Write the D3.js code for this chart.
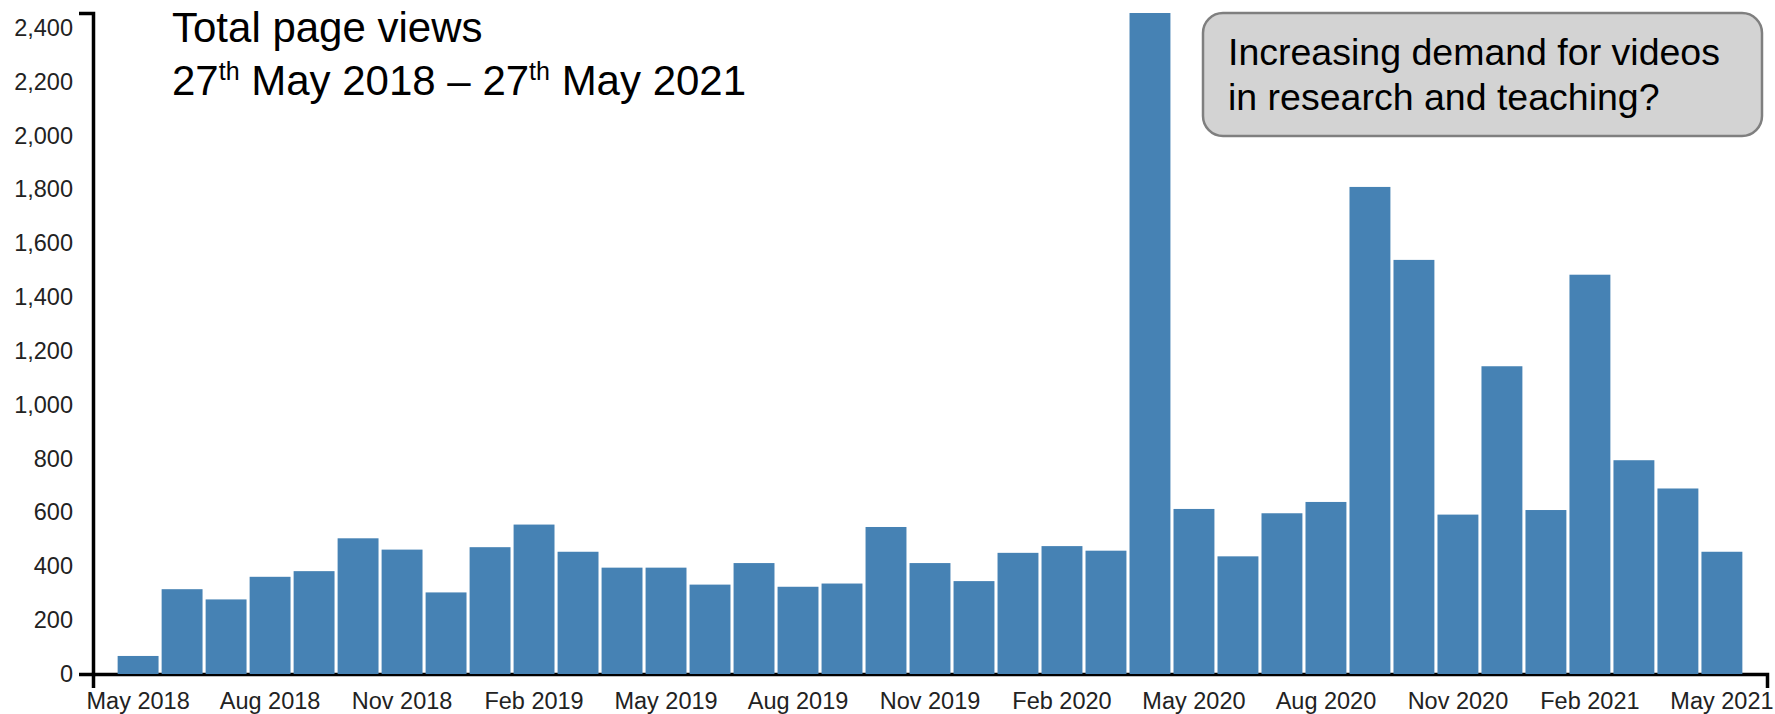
<!DOCTYPE html>
<html>
<head>
<meta charset="utf-8">
<script src="https://cdn.jsdelivr.net/npm/d3@7"></script>
<style>
  body { margin: 0; background: #fff; }
  text { font-family: 'Liberation Sans', Arial, sans-serif; }
</style>
</head>
<body>
<div id="chart"></div>
<script>
const months = [
    'May 2018', 'Jun 2018', 'Jul 2018', 'Aug 2018', 'Sep 2018', 'Oct 2018', 'Nov 2018', 'Dec 2018',
    'Jan 2019', 'Feb 2019', 'Mar 2019', 'Apr 2019', 'May 2019', 'Jun 2019', 'Jul 2019', 'Aug 2019',
    'Sep 2019', 'Oct 2019', 'Nov 2019', 'Dec 2019', 'Jan 2020', 'Feb 2020', 'Mar 2020', 'Apr 2020',
    'May 2020', 'Jun 2020', 'Jul 2020', 'Aug 2020', 'Sep 2020', 'Oct 2020', 'Nov 2020', 'Dec 2020',
    'Jan 2021', 'Feb 2021', 'Mar 2021', 'Apr 2021', 'May 2021'
]
const views = [
    67, 315, 277, 361, 382, 504, 462, 303,
    471, 555, 454, 395, 395, 332, 412, 324,
    336, 546, 412, 345, 450, 475, 458, 2455,
    613, 437, 597, 639, 1809, 1538, 592, 1143,
    609, 1483, 794, 689, 454
]
const xTickLabels = [
    'May 2018', 'Aug 2018', 'Nov 2018', 'Feb 2019', 'May 2019', 'Aug 2019', 'Nov 2019',
    'Feb 2020', 'May 2020', 'Aug 2020', 'Nov 2020', 'Feb 2021', 'May 2021'
]
const titleLines = ['Total page views']
const noteLines = ['Increasing demand for videos', 'in research and teaching?']

const width = 1775
const height = 714
const margin = { top: 13, right: 8, bottom: 40, left: 93 }

const svg = d3.select('#chart').append('svg')
    .attr('width', width)
    .attr('height', height)

const x = d3.scaleBand()
    .domain(months)
    .range([margin.left, width - margin.right])
    .paddingInner(0.07)
    .paddingOuter(0.56)

const y = d3.scaleLinear()
    .domain([0, d3.max(views)])
    .range([height - margin.bottom, margin.top])

// y axis
const yAxis = svg.append('g')
    .attr('transform', `translate(${margin.left}, 0)`)
    .call(d3.axisLeft(y).ticks(12).tickFormat(d3.format(',')).tickSizeInner(0).tickSizeOuter(14).tickPadding(20))
yAxis.select('.domain').attr('stroke', '#000').attr('stroke-width', 3.5)
yAxis.selectAll('text').attr('font-size', '23.5px').attr('font-family', "'Liberation Sans', Arial, sans-serif").attr('fill', '#222')

// x axis
const xAxis = svg.append('g')
    .attr('transform', `translate(0, ${height - margin.bottom})`)
    .call(d3.axisBottom(x).tickValues(xTickLabels).tickSizeInner(0).tickSizeOuter(14).tickPadding(18))
xAxis.select('.domain').attr('stroke', '#000').attr('stroke-width', 3.5)
xAxis.selectAll('text').attr('font-size', '23.5px').attr('font-family', "'Liberation Sans', Arial, sans-serif").attr('fill', '#222')

// bars
svg.selectAll('rect.bar')
    .data(months)
    .enter()
    .append('rect')
    .attr('class', 'bar')
    .attr('x', d => x(d))
    .attr('y', (d, i) => y(views[i]))
    .attr('width', x.bandwidth())
    .attr('height', (d, i) => y(0) - y(views[i]))
    .attr('fill', 'steelblue')

// title
const title = svg.append('text')
    .attr('x', 172)
    .attr('y', 42)
    .attr('font-size', '42px')
    .attr('fill', '#000')
    .text(titleLines[0])

const sub = svg.append('text')
    .attr('x', 172)
    .attr('y', 95)
    .attr('font-size', '42px')
    .attr('fill', '#000')
sub.append('tspan').text('27')
sub.append('tspan').attr('dy', -15).attr('font-size', '25px').text('th')
sub.append('tspan').attr('dy', 15).text(' May 2018 \u2013 27')
sub.append('tspan').attr('dy', -15).attr('font-size', '25px').text('th')
sub.append('tspan').attr('dy', 15).text(' May 2021')

// callout
const note = svg.append('g')
note.append('rect')
    .attr('x', 1203)
    .attr('y', 13)
    .attr('width', 559)
    .attr('height', 123)
    .attr('rx', 20)
    .attr('fill', '#d3d3d3')
    .attr('stroke', '#7f7f7f')
    .attr('stroke-width', 2.5)
note.selectAll('text')
    .data(noteLines)
    .enter()
    .append('text')
    .attr('x', 1228)
    .attr('y', (d, i) => 65 + i * 45)
    .attr('font-size', '37.5px')
    .attr('fill', '#000')
    .text(d => d)
</script>
</body>
</html>
